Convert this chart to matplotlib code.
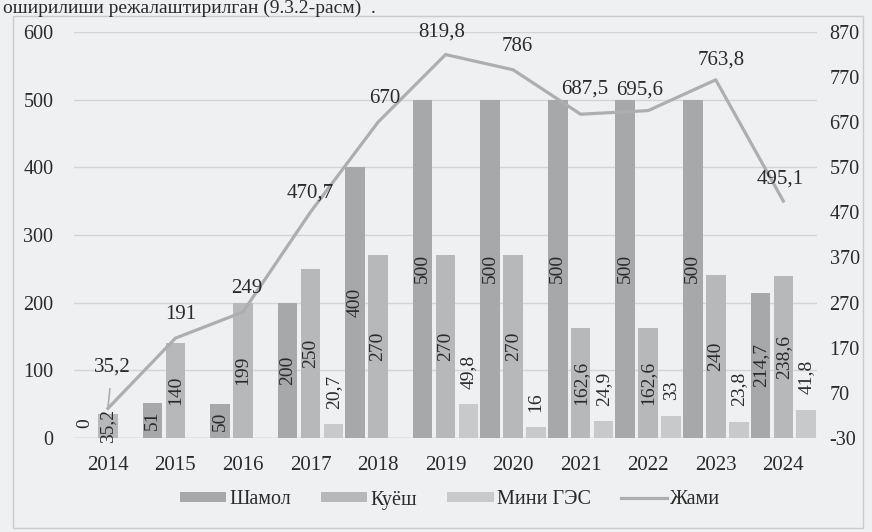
import matplotlib.pyplot as plt
import numpy as np
from matplotlib.patches import Rectangle

plt.rcParams['font.family'] = ['Liberation Serif', 'DejaVu Serif']
plt.rcParams['axes.unicode_minus'] = False

# === Data (MW) ===
years = ['2014', '2015', '2016', '2017', '2018', '2019', '2020', '2021', '2022', '2023', '2024']
wind = [0, 51, 50, 200, 400, 500, 500, 500, 500, 500, 214.7]
solar = [35.2, 140, 199, 250, 270, 270, 270, 162.6, 162.6, 240, 238.6]
mini_hes = [0, 0, 0, 20.7, 0, 49.8, 16, 24.9, 33, 23.8, 41.8]
total = [35.2, 191, 249, 470.7, 670, 819.8, 786, 687.5, 695.6, 763.8, 495.1]
left_ticks = [0, 100, 200, 300, 400, 500, 600]
right_ticks = [-30, 70, 170, 270, 370, 470, 570, 670, 770, 870]

bg = '#eef0f1'
txt = '#2a2a2a'
c_wind = '#a7a8aa'
c_solar = '#b7b8ba'
c_mini = '#c8c9cb'
c_line = '#adaeaf'


def fmt(v):
    return f"{v:g}".replace('.', ',')


fig = plt.figure(figsize=(8.72, 5.32), dpi=100, facecolor=bg)
ax = fig.add_axes([0.085, 0.177, 0.852, 0.763])
ax.set_facecolor('none')

x = np.arange(len(years))
w = 0.29
off = 0.34

b_wind = ax.bar(x - off, wind, w, color=c_wind, label='Шамол', zorder=2)
b_solar = ax.bar(x, solar, w, color=c_solar, label='Куёш', zorder=2)
b_mini = ax.bar(x + off, mini_hes, w, color=c_mini, label='Мини ГЭС', zorder=2)

lab_kw = dict(rotation=90, fontsize=14, color=txt)
ax.bar_label(b_wind, labels=[fmt(v) if v > 0 else '' for v in wind], label_type='center', **lab_kw)
ax.bar_label(b_solar, labels=[fmt(v) if v > 0 else '' for v in solar], label_type='center', **lab_kw)
ax.bar_label(b_mini, labels=[fmt(v) if v > 0 else '' for v in mini_hes], label_type='edge', padding=11, **lab_kw)
for i, v in enumerate(wind):
    if v == 0:
        ax.annotate(fmt(v), (x[i] - off, v), xytext=(0, 7), textcoords='offset points',
                    ha='center', va='bottom', **lab_kw)

ax.set_xlim(-0.5, len(years) - 0.5)
ax.set_ylim(0, 600)
ax.set_yticks(left_ticks)
ax.set_xticks(x)
ax.set_xticklabels(years)
ax.grid(axis='y', color='#d2d5d7', lw=1, zorder=0)
ax.axhline(0, color='#c4c7c9', lw=1, zorder=1)
ax.tick_params(axis='y', length=0, pad=15, labelsize=14.5, labelcolor=txt)
ax.tick_params(axis='x', length=0, pad=13, labelsize=15, labelcolor=txt)
for s in ax.spines.values():
    s.set_visible(False)

# total on secondary axis
ax2 = ax.twinx()
ax2.set_ylim(-30, 870)
ax2.set_yticks(right_ticks)
ax2.tick_params(axis='y', length=0, pad=9, labelsize=14.5, labelcolor=txt)
for s in ax2.spines.values():
    s.set_visible(False)
line, = ax2.plot(x, total, color=c_line, lw=2.3, label='Жами', zorder=3)

label_offsets = [(3, 30), (4, 17), (3, 17), (0, 14), (5, 17), (-3, 16), (3, 17), (3, 18), (-6, 15), (4, 14), (-2, 16)]
for i, v in enumerate(total):
    dx, dy = label_offsets[i]
    arrow = dict(arrowstyle='-', color=c_line, lw=1.2, shrinkA=7, shrinkB=0) if i == 0 else None
    ax2.annotate(fmt(v), (x[i], v), xytext=(dx, dy), textcoords='offset points',
                 ha='center', va='center', fontsize=15, color=txt, arrowprops=arrow)

fig.legend(handles=[b_wind, b_solar, b_mini, line], loc='center',
           bbox_to_anchor=(450 / 872, 1 - 500 / 532), ncol=4, frameon=False,
           fontsize=14.5, handlelength=2.3, handleheight=0.4, handletextpad=0.15,
           columnspacing=1.5, labelcolor=txt)

# chart frame and page text above it
fig.add_artist(Rectangle((13 / 872, 4 / 532), 850 / 872, 512 / 532, transform=fig.transFigure,
                         fill=False, edgecolor='#c9cbcd', lw=1))
fig.text(0.004, 1 - 13 / 532, 'оширилиши режалаштирилган (9.3.2-расм)  .', fontsize=14,
         color=txt, ha='left', va='baseline')

fig.savefig('out.png', dpi=100, facecolor=bg)
